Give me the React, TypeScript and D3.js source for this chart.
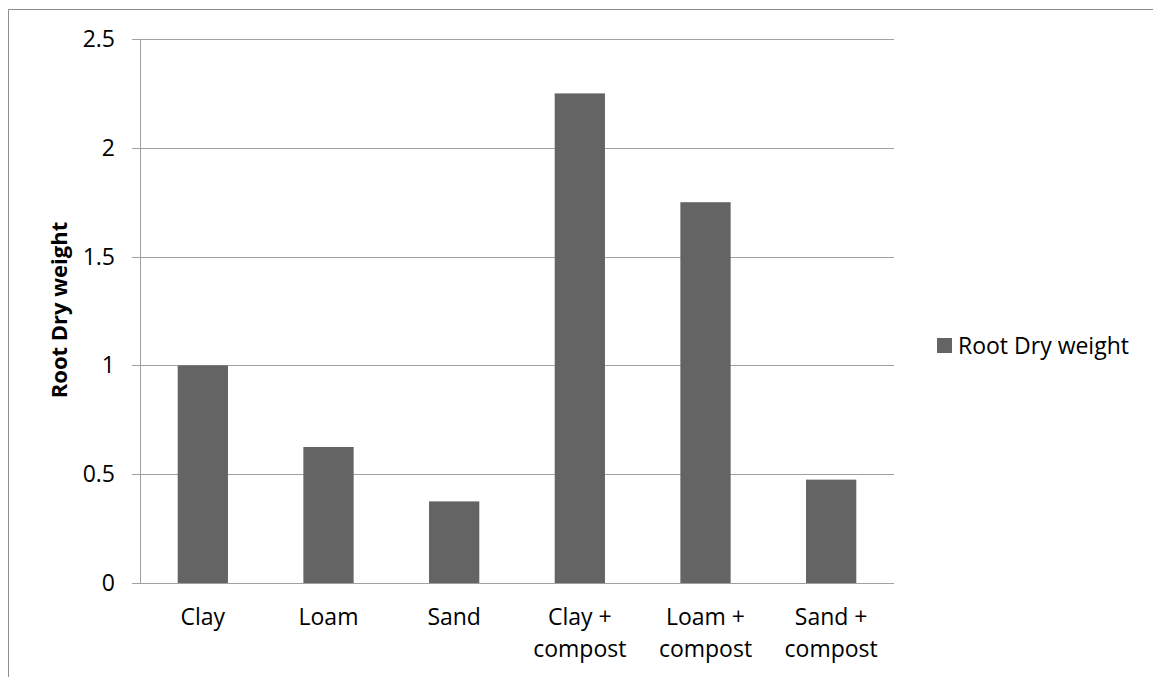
import React from "react";
import * as d3 from "d3";

const categories: string[][] = [
  ["Clay"],
  ["Loam"],
  ["Sand"],
  ["Clay +", "compost"],
  ["Loam +", "compost"],
  ["Sand +", "compost"],
];
const rootDryWeight: number[] = [1.0, 0.625, 0.375, 2.25, 1.75, 0.475];
const yTicks: number[] = [0, 0.5, 1, 1.5, 2, 2.5];
const seriesName = "Root Dry weight";

const W = 1153;
const H = 677;
const plot = { left: 140, right: 894, top: 39, bottom: 583 };
const barColor = "#646464";
const gridColor = "#a0a0a0";
const font = "'Open Sans', 'Liberation Sans', sans-serif";
const fs = 23;

export default function App() {
  const x = d3
    .scaleBand<number>()
    .domain(d3.range(categories.length))
    .range([plot.left, plot.right])
    .paddingInner(0.6)
    .paddingOuter(0.3);
  const y = d3.scaleLinear().domain([0, 2.5]).range([plot.bottom, plot.top]);

  return (
    <svg
      width={W}
      height={H}
      style={{ position: "absolute", left: 0, top: 0 }}
      fontFamily={font}
    >
      <rect x={0} y={0} width={W} height={H} fill="#fff" />
      {/* chart frame */}
      <path d={`M8.5,${H} V9.5 H${W}`} fill="none" stroke="#8c8c8c" strokeWidth={1} />

      {/* gridlines with tick marks */}
      {yTicks.map((t) => (
        <g key={t}>
          <line
            x1={plot.left - 8}
            x2={plot.right}
            y1={Math.round(y(t)) + 0.5}
            y2={Math.round(y(t)) + 0.5}
            stroke={gridColor}
          />
          <text
            x={115}
            y={y(t) + 8}
            textAnchor="end"
            fontSize={fs}
            fill="#000"
          >
            {t}
          </text>
        </g>
      ))}
      <line
        x1={plot.left + 0.5}
        x2={plot.left + 0.5}
        y1={plot.top}
        y2={plot.bottom}
        stroke={gridColor}
      />

      {/* bars */}
      {rootDryWeight.map((v, i) => (
        <rect
          key={i}
          x={x(i)}
          y={y(v)}
          width={x.bandwidth()}
          height={y(0) - y(v)}
          fill={barColor}
        />
      ))}

      {/* category labels */}
      {categories.map((lines, i) => (
        <text
          key={i}
          x={(x(i) ?? 0) + x.bandwidth() / 2}
          y={625}
          textAnchor="middle"
          fontSize={fs}
          fill="#000"
        >
          {lines.map((l, j) => (
            <tspan key={j} x={(x(i) ?? 0) + x.bandwidth() / 2} dy={j === 0 ? 0 : 32}>
              {l}
            </tspan>
          ))}
        </text>
      ))}

      {/* y axis title */}
      <text
        transform={`translate(67,310) rotate(-90)`}
        textAnchor="middle"
        fontSize={22}
        fontWeight="bold"
        fill="#000"
      >
        {seriesName}
      </text>

      {/* legend */}
      <rect x={937} y={338} width={15} height={15} fill={barColor} />
      <text x={958} y={354} fontSize={fs} fill="#000">
        {seriesName}
      </text>
    </svg>
  );
}
